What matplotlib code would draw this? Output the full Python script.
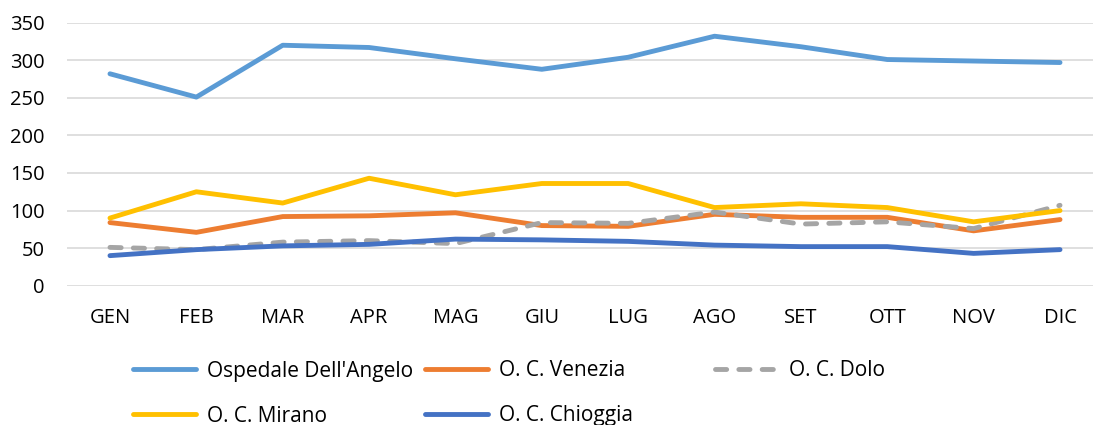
import matplotlib.pyplot as plt
from matplotlib.lines import Line2D

plt.rcParams['font.family'] = ['Open Sans', 'DejaVu Sans']

months = ["GEN", "FEB", "MAR", "APR", "MAG", "GIU", "LUG", "AGO", "SET", "OTT", "NOV", "DIC"]

angelo = [282, 251, 320, 317, 302, 288, 304, 332, 318, 301, 299, 297]
venezia = [84, 71, 92, 93, 97, 80, 79, 95, 91, 91, 73, 88]
dolo = [51, 48, 58, 60, 56, 84, 83, 98, 82, 85, 76, 107]
mirano = [90, 125, 110, 143, 121, 136, 136, 104, 109, 104, 85, 100]
chioggia = [40, 48, 53, 55, 62, 61, 59, 54, 52, 52, 43, 48]

series = [
    ("Ospedale Dell'Angelo", angelo, "#5B9BD5", "-"),
    ("O. C. Venezia", venezia, "#ED7D31", "-"),
    ("O. C. Dolo", dolo, "#A5A5A5", "--"),
    ("O. C. Mirano", mirano, "#FFC000", "-"),
    ("O. C. Chioggia", chioggia, "#4472C4", "-"),
]

W, H = 1093, 425
fig = plt.figure(figsize=(W / 100, H / 100), dpi=100)
# plot area in pixels: left 66.8, right 1103 (cut by the image), y 22.7 .. 285.7
ax = fig.add_axes([66.8 / W, (H - 285.7) / H, (1103.2 - 66.8) / W, 263 / H])

x = list(range(len(months)))
handles = {}
for name, vals, col, ls in series:
    if ls == "--":
        ln, = ax.plot(x, vals, color=col, lw=3.5, dashes=(2.3, 2.5),
                      dash_capstyle="round", solid_capstyle="round")
    else:
        ln, = ax.plot(x, vals, color=col, lw=3.5, solid_capstyle="round")
    handles[name] = ln

ax.set_xlim(-0.5, len(months) - 0.5)
ax.set_ylim(0, 350)
ax.set_yticks(range(0, 351, 50))
ax.set_xticks(x)
ax.set_xticklabels(months)
ax.grid(axis="y", color="#D9D9D9", lw=1.2)
ax.set_axisbelow(True)
for s in ax.spines.values():
    s.set_visible(False)
ax.tick_params(axis="both", length=0, labelsize=14.5, colors="#000000")
ax.tick_params(axis="y", pad=16)
ax.tick_params(axis="x", pad=16)

# legend entries laid out like Excel: equal columns, row-major
legend_pos = {
    "Ospedale Dell'Angelo": (133, 371),
    "O. C. Venezia": (425, 371),
    "O. C. Dolo": (715, 371),
    "O. C. Mirano": (133, 416),
    "O. C. Chioggia": (425, 416),
}
for name, (px, py) in legend_pos.items():
    h = handles[name]
    proxy = Line2D([], [], color=h.get_color(), lw=3.5, linestyle=h.get_linestyle(),
                   dash_capstyle="round", solid_capstyle="round")
    if name == "O. C. Dolo":
        proxy.set_dashes((2.3, 2.5))
    fig.legend([proxy], [name], loc="center left",
               bbox_to_anchor=(px / W, (H - py) / H),
               frameon=False, fontsize=15, handlelength=3.0,
               handletextpad=0.55, borderpad=0, borderaxespad=0)

fig.savefig("out.png", dpi=100)
